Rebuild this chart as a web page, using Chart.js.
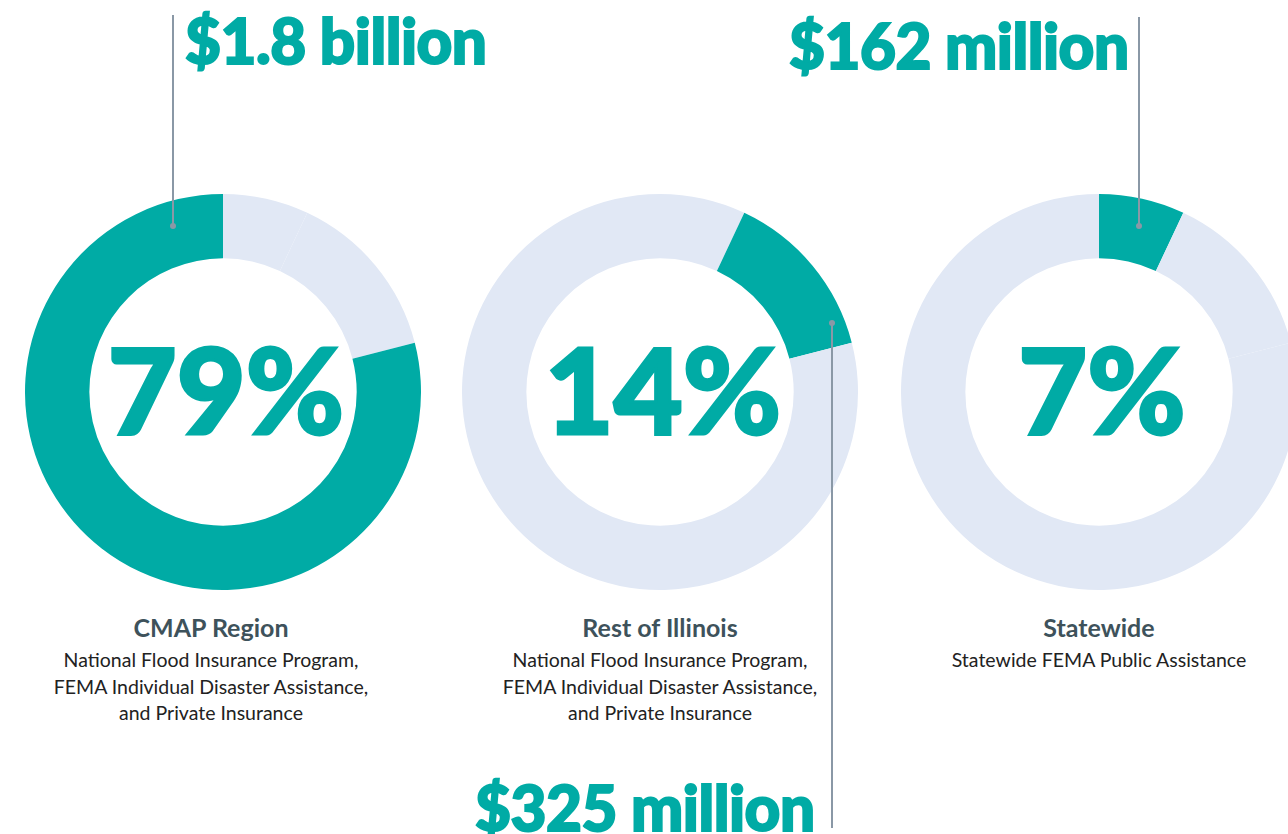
<!DOCTYPE html>
<html>
<head>
<meta charset="utf-8">
<script src="https://cdn.jsdelivr.net/npm/chart.js@4/dist/chart.umd.min.js"></script>
<style>
  html, body { margin:0; padding:0; background:#fff; width:1288px; height:834px; overflow:hidden; }
  body { position:relative; font-family: Lato, "Open Sans", sans-serif; }
  .wrap { position:absolute; width:400px; height:400px; }
  .wrap canvas { position:absolute; left:0; top:0; }
  .pct { position:absolute; color:#00aba5; font-family: Lato, sans-serif; font-weight:900; font-size:119px; line-height:1; white-space:nowrap; transform:translateX(-50%); letter-spacing:0px; -webkit-text-stroke:3px #00aba5; }
  .amt { position:absolute; color:#00aba5; font-family: Lato, sans-serif; font-weight:900; font-size:62px; line-height:1; white-space:nowrap; letter-spacing:-0.5px; -webkit-text-stroke:2px #00aba5; }
  .cat { position:absolute; transform:translateX(-50%); text-align:center; white-space:nowrap; }
  .cat .t { color:#3e525b; font-weight:700; font-size:25px; line-height:30px; margin-bottom:5px; }
  .cat .s { color:#222; font-weight:400; font-size:19.5px; line-height:26.5px; }
  .lead { position:absolute; width:1.5px; background:#8a98a6; }
  .dot { position:absolute; width:6px; height:6px; border-radius:50%; background:#8a98a6; transform:translate(-50%,-50%); }
</style>
</head>
<body>
<script>
// Data
const segments = ["Statewide", "Rest of Illinois", "CMAP Region"];
const shares = [7, 14, 79];               // percent of total, in clockwise order from 12 o'clock
const amounts = ["$162 million", "$325 million", "$1.8 billion"];
const subtitles = [
  ["Statewide FEMA Public Assistance"],
  ["National Flood Insurance Program,", "FEMA Individual Disaster Assistance,", "and Private Insurance"],
  ["National Flood Insurance Program,", "FEMA Individual Disaster Assistance,", "and Private Insurance"]
];
// display order left-to-right: CMAP, Rest, Statewide
const displayOrder = [2, 1, 0];

const TEAL = "#00aba5";
const LIGHT = "#e1e8f5";

const centersX = [223, 660, 1099];
const centerY = 392;
const R = 198;

displayOrder.forEach((segIdx, i) => {
  const cx = centersX[i];
  const wrap = document.createElement("div");
  wrap.className = "wrap";
  wrap.style.left = (cx - R) + "px";
  wrap.style.top = (centerY - R) + "px";
  wrap.style.width = (2 * R) + "px";
  wrap.style.height = (2 * R) + "px";
  const cv = document.createElement("canvas");
  cv.width = 2 * R; cv.height = 2 * R;
  cv.style.width = (2 * R) + "px"; cv.style.height = (2 * R) + "px";
  wrap.appendChild(cv);
  document.body.appendChild(wrap);

  new Chart(cv, {
    type: "doughnut",
    data: {
      labels: segments,
      datasets: [{
        data: shares,
        backgroundColor: shares.map((_, k) => k === segIdx ? TEAL : LIGHT),
        borderWidth: 0,
        hoverOffset: 0
      }]
    },
    options: {
      responsive: false,
      animation: false,
      cutout: "67.5%",
      layout: { padding: 0 },
      plugins: { legend: { display: false }, tooltip: { enabled: false } },
      events: []
    }
  });

  // center percentage
  const p = document.createElement("div");
  p.className = "pct";
  p.textContent = shares[segIdx] + "%";
  p.style.left = (cx + 3) + "px";
  p.style.top = (centerY - 63) + "px";
  document.body.appendChild(p);

  // category text
  const c = document.createElement("div");
  c.className = "cat";
  c.style.left = (i === 0 ? 211 : cx) + "px";
  c.style.top = "612px";
  const t = document.createElement("div");
  t.className = "t";
  t.textContent = segments[segIdx];
  c.appendChild(t);
  subtitles[segIdx].forEach(line => {
    const s = document.createElement("div");
    s.className = "s";
    s.textContent = line;
    c.appendChild(s);
  });
  document.body.appendChild(c);
});

// amount labels and leader lines
function amount(text, left, top) {
  const a = document.createElement("div");
  a.className = "amt";
  a.textContent = text;
  a.style.left = left + "px";
  a.style.top = top + "px";
  document.body.appendChild(a);
}
function lead(x, y1, y2, dotY) {
  const l = document.createElement("div");
  l.className = "lead";
  l.style.left = (x - 0.75) + "px";
  l.style.top = y1 + "px";
  l.style.height = (y2 - y1) + "px";
  document.body.appendChild(l);
  const d = document.createElement("div");
  d.className = "dot";
  d.style.left = x + "px";
  d.style.top = dotY + "px";
  document.body.appendChild(d);
}
amount(amounts[2], 185, 9);
lead(173, 15, 226, 226);
amount(amounts[1], 475, 776);
lead(832, 323, 828, 323);
amount(amounts[0], 789, 14);
lead(1139, 17, 226, 226);
</script>
</body>
</html>
